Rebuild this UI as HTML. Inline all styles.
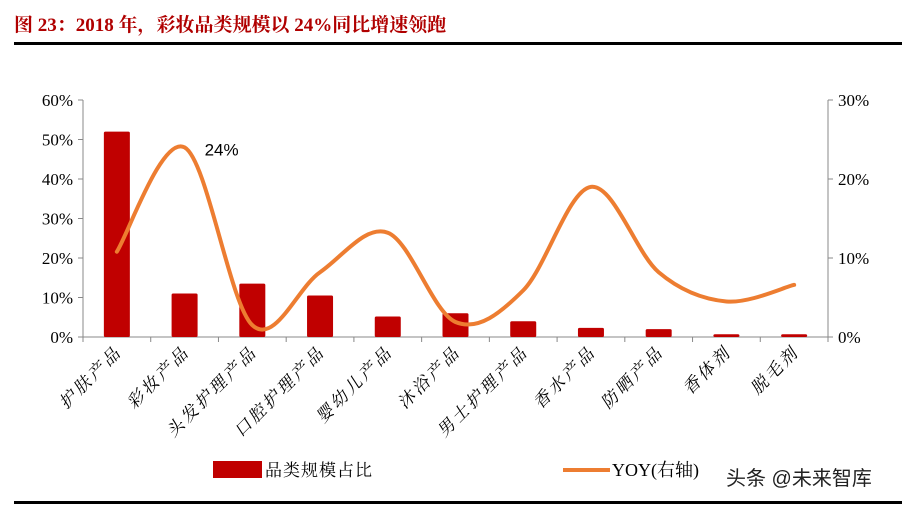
<!DOCTYPE html>
<html><head><meta charset="utf-8">
<style>
html,body{margin:0;padding:0;background:#fff;}
body{width:906px;height:506px;overflow:hidden;position:relative;font-family:"Liberation Serif","Noto Serif CJK SC",serif;}
.title{position:absolute;left:14px;top:10px;font-size:19px;font-weight:bold;color:#b00000;font-family:"Liberation Serif","Noto Serif CJK SC",serif;}
</style></head><body>
<div class="title">图 23：2018 年，彩妆品类规模以 24%同比增速领跑</div>
<div style="position:absolute;left:14px;top:42px;width:888px;height:3px;background:#000"></div>
<div style="position:absolute;left:14px;top:501px;width:888px;height:3px;background:#000"></div>
<svg id="chart" width="906" height="506" style="position:absolute;left:0;top:0"></svg>
<script>
const categories=["护肤产品","彩妆产品","头发护理产品","口腔护理产品","婴幼儿产品","沐浴产品","男士护理产品","香水产品","防晒产品","香体剂","脱毛剂"];
const shareValues=[52,11,13.5,10.5,5.2,6,4,2.3,2,0.7,0.7];
const yoyValues=[10.8,24,1.5,8.2,13.2,1.9,5.9,19,8.2,4.5,6.6];
const leftTicks=[0,10,20,30,40,50,60];
const rightTicks=[0,10,20,30];
const NS="http://www.w3.org/2000/svg";
const svg=document.getElementById('chart');
const X0=83,X1=828,Y0=337,Y1=100;
const band=(X1-X0)/categories.length;
const xC=i=>X0+band*(i+0.5);
const yL=v=>Y0-(v/60)*(Y0-Y1);
const yR=v=>Y0-(v/30)*(Y0-Y1);
function mk(t,a){const e=document.createElementNS(NS,t);for(const k in a)e.setAttribute(k,a[k]);svg.appendChild(e);return e;}
let e=mk('line',{x1:X0,y1:Y1,x2:X0,y2:Y0,stroke:'#888','stroke-width':1});


e=mk('line',{x1:X1,y1:Y1,x2:X1,y2:Y0,stroke:'#888','stroke-width':1});


e=mk('line',{x1:X0,y1:Y0,x2:X1,y2:Y0,stroke:'#888','stroke-width':1});


leftTicks.forEach(v=>{const y=yL(v);
 mk('line',{x1:X0-5,y1:y,x2:X0,y2:y,stroke:'#888'});
 const t=mk('text',{x:X0-10,y:y+6,'text-anchor':'end','font-size':17,fill:'#000'});t.textContent=v+'%';
 
 });
rightTicks.forEach(v=>{const y=yR(v);
 mk('line',{x1:X1,y1:y,x2:X1+5,y2:y,stroke:'#888'});
 const t=mk('text',{x:X1+10,y:y+6,'text-anchor':'start','font-size':17,fill:'#000'});t.textContent=v+'%';
 
 });
for(let i=0;i<=categories.length;i++){const x=X0+band*i;mk('line',{x1:x,y1:Y0,x2:x,y2:Y0+5,stroke:'#888'});}
shareValues.forEach((v,i)=>{const r=mk('rect',{x:xC(i)-13,y:yL(v),width:26,height:Y0-yL(v),fill:'#c00000',rx:1.5});
 
 });
const pts=yoyValues.map((v,i)=>[xC(i),yR(v)]);
let d='M'+pts[0][0]+','+pts[0][1];
for(let i=0;i<pts.length-1;i++){const p0=pts[Math.max(0,i-1)],p1=pts[i],p2=pts[i+1],p3=pts[Math.min(pts.length-1,i+2)];
 const c1=[p1[0]+(p2[0]-p0[0])/6,p1[1]+(p2[1]-p0[1])/6],c2=[p2[0]-(p3[0]-p1[0])/6,p2[1]-(p3[1]-p1[1])/6];
 d+=` C${c1[0]},${c1[1]} ${c2[0]},${c2[1]} ${p2[0]},${p2[1]}`;}
e=mk('path',{d:d,fill:'none',stroke:'#ed7d31','stroke-width':4,'stroke-linecap':'round'});


e=mk('text',{x:xC(1)+20,y:yR(yoyValues[1])+8,'font-size':17,'font-family':'Liberation Sans, sans-serif',fill:'#000'});e.textContent=yoyValues[1]+'%';


categories.forEach((c,i)=>{const x=xC(i)+6,y=Y0+16;
 const t=mk('text',{x:0,y:0,'text-anchor':'end','font-size':17,'letter-spacing':3,fill:'#000',transform:`translate(${x} ${y}) rotate(-45) skewX(-12)`,'font-family':'Liberation Serif, Noto Serif CJK SC, serif'});
 t.textContent=c;
 
 });
e=mk('rect',{x:213,y:461,width:49,height:17,fill:'#c00000'});


e=mk('text',{x:265,y:476,'font-size':17,'letter-spacing':1,fill:'#000'});e.textContent='品类规模占比';


e=mk('line',{x1:563,y1:470,x2:610,y2:470,stroke:'#ed7d31','stroke-width':4});


e=mk('text',{x:612,y:476,'font-size':18,fill:'#000'});e.textContent='YOY(右轴)';


e=mk('text',{x:726,y:485,'font-size':20,fill:'#222','font-family':'Liberation Sans, Noto Sans CJK SC, sans-serif'});e.textContent='头条 @未来智库';


</script>
</body></html>
